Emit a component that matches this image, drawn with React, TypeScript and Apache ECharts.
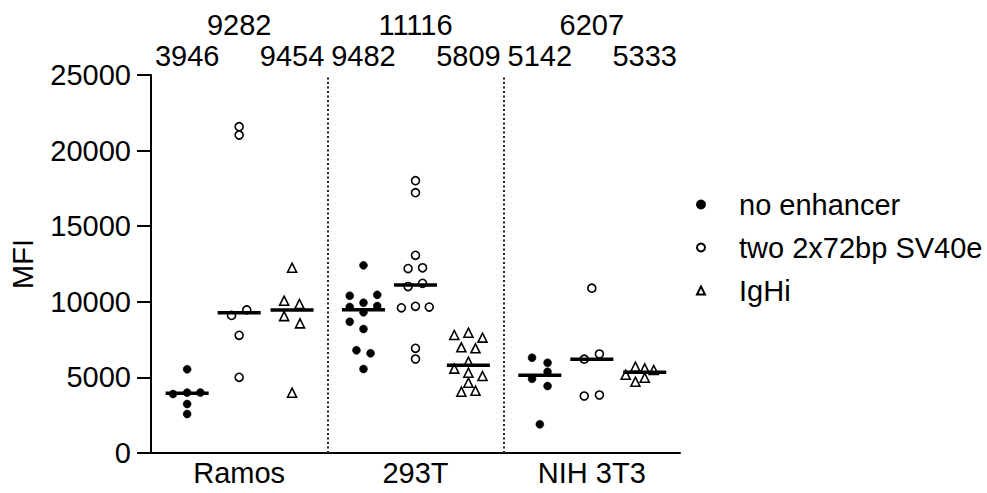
import React, { useEffect, useRef } from "react";
import * as echarts from "echarts";

const CELL_LINES = ["Ramos", "293T", "NIH 3T3"];
const SERIES_NAMES = ["no enhancer", "two 2x72bp SV40e", "IgHi"];
const Y_TICKS = [0, 5000, 10000, 15000, 20000, 25000];

// position of each condition column inside a cell-line band (band width = 1)
const COLUMN_OFFSETS = [0.205, 0.5, 0.8];

// no enhancer
const noEnhRamos = [5535, 3900, 3992, 4000, 3240, 2580];
const noEnhRamosJit = [0, -0.08, 0, 0.075, 0, 0];
const noEnh293T = [12410, 10400, 10460, 9940, 9660, 9720, 9304, 8684, 8201, 6792, 6594, 5556];
const noEnh293TJit = [0, -0.078, 0.078, 0, -0.078, 0.078, 0, -0.078, 0, -0.04, 0.04, 0];
const noEnhNIH = [6303, 5972, 5377, 4907, 4431, 1898];
const noEnhNIHJit = [-0.044, 0.044, 0.044, -0.044, 0.044, 0];

// two 2x72bp SV40e
const sv40Ramos = [21580, 21030, 9464, 9100, 7785, 5005];
const sv40RamosJit = [0, 0, 0.043, -0.043, 0, 0];
const sv40293T = [18010, 17216, 13075, 12200, 12250, 11010, 11222, 9600, 9700, 9650, 6924, 6217];
const sv40293TJit = [0, 0, 0, -0.042, 0.04, -0.042, 0.04, -0.08, 0, 0.078, 0, 0];
const sv40NIH = [10900, 6548, 6207, 3836, 3770];
const sv40NIHJit = [0, 0.043, -0.043, 0.043, -0.043];

// IgHi
const ighiRamos = [12255, 10073, 9854, 9054, 8576, 3988];
const ighiRamosJit = [0, -0.045, 0.042, -0.045, 0.045, 0];
const ighi293T = [7804, 7957, 7628, 6990, 6924, 6038, 5580, 5310, 5093, 4650, 4054, 4120];
const ighi293TJit = [-0.08, 0, 0.08, -0.04, 0.04, 0, -0.08, 0, 0.08, 0, -0.04, 0.04];
const ighiNIH = [5177, 5708, 5600, 5489, 4716, 4980];
const ighiNIHJit = [-0.108, -0.053, 0, 0.051, -0.053, 0];

// medians (shown as bars and numbers on top)
const medianNoEnh = [3946, 9482, 5142];
const medianSV40 = [9282, 11116, 6207];
const medianIgHi = [9454, 5809, 5333];

const FONT = "'Liberation Sans', Arial, Helvetica, sans-serif";
const FONT_SIZE = 29;

function pts(group: number, col: number, values: number[], jit: number[]) {
  return values.map((v, i) => [group + COLUMN_OFFSETS[col] + jit[i], v]);
}

export default function App() {
  const ref = useRef<HTMLDivElement>(null);

  useEffect(() => {
    if (!ref.current) return;
    const chart = echarts.init(ref.current, undefined, { renderer: "svg" });

    const noEnhData = [
      ...pts(0, 0, noEnhRamos, noEnhRamosJit),
      ...pts(1, 0, noEnh293T, noEnh293TJit),
      ...pts(2, 0, noEnhNIH, noEnhNIHJit),
    ];
    const sv40Data = [
      ...pts(0, 1, sv40Ramos, sv40RamosJit),
      ...pts(1, 1, sv40293T, sv40293TJit),
      ...pts(2, 1, sv40NIH, sv40NIHJit),
    ];
    const ighiData = [
      ...pts(0, 2, ighiRamos, ighiRamosJit),
      ...pts(1, 2, ighi293T, ighi293TJit),
      ...pts(2, 2, ighiNIH, ighiNIHJit),
    ];

    const medians = [medianNoEnh, medianSV40, medianIgHi];
    const medianData: number[][] = [];
    for (let g = 0; g < CELL_LINES.length; g++) {
      for (let c = 0; c < 3; c++) {
        medianData.push([g + COLUMN_OFFSETS[c], medians[c][g], c === 1 ? 0 : 1]);
      }
    }

    const option: any = {
      animation: false,
      backgroundColor: "#ffffff",
      textStyle: { fontFamily: FONT },
      grid: { left: 151, right: 307, top: 75, bottom: 40, containLabel: false },
      legend: {
        orient: "vertical",
        left: 691,
        top: 185,
        itemWidth: 8,
        itemHeight: 8,
        itemGap: 14,
        data: SERIES_NAMES,
        textStyle: { fontSize: FONT_SIZE, color: "#000", fontFamily: FONT, padding: [0, 0, 0, 29] },
        selectedMode: false,
      },
      xAxis: [
        {
          type: "category",
          data: CELL_LINES,
          boundaryGap: true,
          axisLine: { show: true, lineStyle: { color: "#000", width: 2 } },
          axisTick: { show: false },
          axisLabel: { fontSize: FONT_SIZE, color: "#000", fontFamily: FONT, margin: 5 },
          splitLine: { show: false },
        },
        {
          type: "value",
          min: 0,
          max: 3,
          show: false,
          splitLine: { show: false },
        },
      ],
      yAxis: {
        type: "value",
        min: 0,
        max: 25000,
        interval: 5000,
        name: "MFI",
        nameLocation: "middle",
        nameGap: 114,
        nameTextStyle: { fontSize: FONT_SIZE, color: "#000", fontFamily: FONT },
        axisLine: { show: true, lineStyle: { color: "#000", width: 2 } },
        axisTick: { show: true, length: 14, lineStyle: { color: "#000", width: 2 } },
        axisLabel: {
          fontSize: FONT_SIZE,
          color: "#000",
          fontFamily: FONT,
          margin: 20,
          formatter: (v: number) => (Y_TICKS.includes(v) ? String(v) : ""),
        },
        splitLine: { show: false },
      },
      series: [
        {
          name: SERIES_NAMES[0],
          type: "scatter",
          xAxisIndex: 1,
          symbol: "circle",
          symbolSize: 8,
          itemStyle: { color: "#000", borderColor: "#000", borderWidth: 0.5, opacity: 1 },
          data: noEnhData,
          z: 2,
        },
        {
          name: SERIES_NAMES[1],
          type: "scatter",
          xAxisIndex: 1,
          symbol: "circle",
          symbolSize: 8,
          itemStyle: { color: "#fff", borderColor: "#000", borderWidth: 1.6, opacity: 1 },
          data: sv40Data,
          z: 2,
        },
        {
          name: SERIES_NAMES[2],
          type: "scatter",
          xAxisIndex: 1,
          symbol: "triangle",
          symbolSize: 9,
          itemStyle: { color: "#fff", borderColor: "#000", borderWidth: 1.6, opacity: 1 },
          data: ighiData,
          z: 2,
        },
        {
          type: "custom",
          xAxisIndex: 1,
          z: 5,
          clip: false,
          data: medianData,
          renderItem: (params: any, api: any) => {
            const x = api.value(0);
            const y = api.value(1);
            const row = api.value(2);
            const p = api.coord([x, y]);
            const pl = api.coord([x - 0.122, y]);
            const pr = api.coord([x + 0.122, y]);
            return {
              type: "group",
              children: [
                {
                  type: "line",
                  shape: { x1: pl[0], y1: p[1], x2: pr[0], y2: p[1] },
                  style: { stroke: "#000", lineWidth: 3.5 },
                },
                {
                  type: "text",
                  x: p[0],
                  y: row === 0 ? 24.5 : 55.5,
                  style: {
                    text: String(y),
                    fontSize: FONT_SIZE,
                    fontFamily: FONT,
                    fill: "#000",
                    align: "center",
                    verticalAlign: "middle",
                  },
                },
              ],
            };
          },
          markLine: {
            silent: true,
            symbol: ["none", "none"],
            label: { show: false },
            lineStyle: { color: "#222", width: 2, type: [2, 2.5] },
            data: [{ xAxis: 1 }, { xAxis: 2 }],
          },
        },
      ],
    };

    chart.setOption(option);
    return () => chart.dispose();
  }, []);

  return <div ref={ref} style={{ width: 987, height: 493, position: "absolute", left: 0, top: 0 }} />;
}
